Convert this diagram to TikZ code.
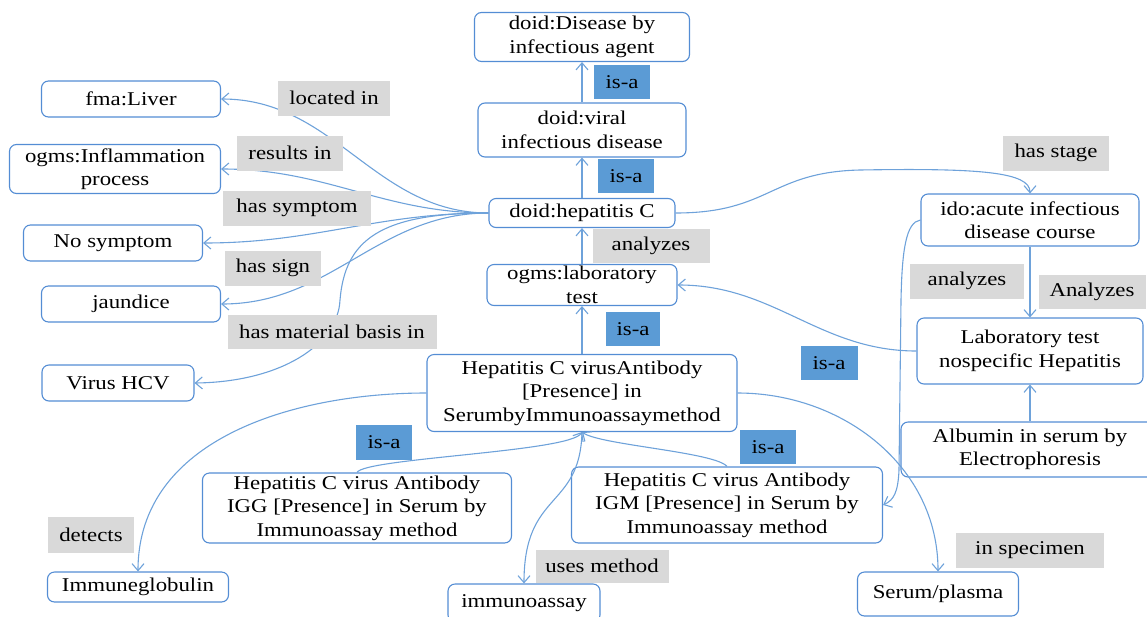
\documentclass[tikz,border=0pt]{standalone}
\usepackage{fontspec}
\setmainfont{Liberation Serif}[FakeStretch=1.17]
\usetikzlibrary{arrows.meta}
\definecolor{bord}{RGB}{84,141,212}
\definecolor{connc}{RGB}{110,162,218}
\definecolor{lblgray}{RGB}{217,217,217}
\definecolor{isablue}{RGB}{91,155,213}
\begin{document}
\begin{tikzpicture}[x=1pt,y=-1pt,
  every node/.style={font=\fontsize{19.5}{23.5}\selectfont, align=center, inner sep=0pt},
  box/.style={draw=bord, line width=1.1pt, rounded corners=7pt, fill=white},
  glbl/.style={fill=lblgray},
  blbl/.style={fill=isablue},
  link/.style={draw=connc, line width=1.1pt, -{Straight Barb[length=7pt,width=12pt]}},
]
\useasboundingbox (0,0) rectangle (1147,616);

% boxes
\node[box, minimum width=215pt, minimum height=49pt] (disease) at (582,37) {doid:Disease by\\infectious agent};
\node[box, minimum width=208pt, minimum height=54pt] (viral) at (582,130) {doid:viral\\infectious disease};
\node[box, minimum width=186pt, minimum height=29pt] (hepc) at (582,213) {doid:hepatitis C};
\node[box, minimum width=190pt, minimum height=41pt] (ogmslab) at (582,285) {ogms:laboratory\\test};
\node[box, minimum width=310pt, minimum height=77pt] (ab) at (582,393) {Hepatitis C virusAntibody\\{}[Presence] in\\SerumbyImmunoassaymethod};
\node[box, minimum width=309pt, minimum height=70pt] (igg) at (357,508) {Hepatitis C virus Antibody\\IGG [Presence] in Serum by\\Immunoassay method};
\node[box, minimum width=311pt, minimum height=76pt] (igm) at (727,505) {Hepatitis C virus Antibody\\IGM [Presence] in Serum by\\Immunoassay method};
\node[box, minimum width=152pt, minimum height=38pt] (immuno) at (524,603) {immunoassay};
\node[box, minimum width=181pt, minimum height=30pt] (immg) at (138,587) {Immuneglobulin};
\node[box, minimum width=161pt, minimum height=44pt] (serum) at (938,594) {Serum/plasma};
\node[box, minimum width=152pt, minimum height=36pt] (virus) at (118,383) {Virus HCV};
\node[box, minimum width=179pt, minimum height=36pt] (jaund) at (131,304) {jaundice};
\node[box, minimum width=179pt, minimum height=36pt] (nosym) at (113,243) {No symptom};
\node[box, minimum width=211pt, minimum height=49pt] (inflam) at (115,169) {ogms:Inflammation\\process};
\node[box, minimum width=179pt, minimum height=36pt] (liver) at (131,99) {fma:Liver};
\node[box, minimum width=218pt, minimum height=52pt] (ido) at (1030,220) {ido:acute infectious\\disease course};
\node[box, minimum width=226pt, minimum height=66pt] (labns) at (1030,351) {Laboratory test\\nospecific Hepatitis};
\node[box, minimum width=258pt, minimum height=55pt] (alb) at (1030,449.5) {Albumin in serum by\\Electrophoresis};

% connectors
\draw[link] (viral.north) -- (disease.south);
\draw[link] (hepc.north) -- (viral.south);
\draw[link] (ogmslab.north) -- (hepc.south);
\draw[link] (ab.north) -- (ogmslab.south);
\draw[link] (hepc.west) to[out=180,in=0] (liver.east);
\draw[link] (hepc.west) to[out=180,in=0] (inflam.east);
\draw[link] (hepc.west) to[out=180,in=0] (nosym.east);
\draw[link] (hepc.west) to[out=180,in=0] (jaund.east);
\draw[link] (hepc.west) .. controls (380,213) and (345,240) .. (340,300) .. controls (338,345) and (280,382) .. (virus.east);
\draw[link] (hepc.east) .. controls (770,213) and (770,172) .. (860,170) .. controls (980,168) and (1030,172) .. (ido.north);
\draw[link] (labns.west) to[out=180,in=0] (ogmslab.east);
\draw[link] (ido.south) -- (labns.north);
\draw[link] (alb.north) -- (labns.south);
\draw[link] (ido.west) .. controls (906,222) and (902,250) .. (901,300) -- (899,470) .. controls (898,492) and (894,500) .. (igm.east);
\draw[link] (ab.west) to[out=180,in=90] (immg.north);
\draw[link] (ab.east) to[out=0,in=90] (serum.north);
\draw[link] (igg.north) .. controls (365,458) and (570,452) .. (ab.south);
\draw[link] (igm.north) .. controls (715,452) and (600,445) .. (ab.south);
\draw[link] (ab.south) .. controls (580,510) and (524,490) .. (immuno.north);

% labels
\node[glbl, minimum width=112pt, minimum height=35pt] (l1) at (334,98) {located in};
\node[glbl, minimum width=106pt, minimum height=35pt] (l2) at (290,153) {results in};
\node[glbl, minimum width=148pt, minimum height=35pt] (l3) at (297,208) {has symptom};
\node[glbl, minimum width=96pt, minimum height=35pt] (l4) at (273,268) {has sign};
\node[glbl, minimum width=209pt, minimum height=34pt] (l5) at (332,332) {has material basis in};
\node[blbl, minimum width=56pt, minimum height=34pt] (i1) at (622,82) {is-a};
\node[blbl, minimum width=56pt, minimum height=34pt] (i2) at (626,176) {is-a};
\node[glbl, minimum width=117pt, minimum height=34pt] (l6) at (651,246) {analyzes};
\node[blbl, minimum width=54pt, minimum height=34pt] (i3) at (633,329) {is-a};
\node[glbl, minimum width=106pt, minimum height=35pt] (l7) at (1056,153) {has stage};
\node[glbl, minimum width=114pt, minimum height=35pt] (l8) at (967,281) {analyzes};
\node[glbl, minimum width=107pt, minimum height=34pt] (l9) at (1092,292) {Analyzes};
\node[blbl, minimum width=57pt, minimum height=34pt] (i4) at (829,363) {is-a};
\node[blbl, minimum width=56pt, minimum height=35pt] (i5) at (384,442) {is-a};
\node[blbl, minimum width=56pt, minimum height=34pt] (i6) at (768,447) {is-a};
\node[glbl, minimum width=86pt, minimum height=36pt] (l10) at (91,535) {detects};
\node[glbl, minimum width=133pt, minimum height=33pt] (l11) at (602,566) {uses method};
\node[glbl, minimum width=148pt, minimum height=35pt] (l12) at (1030,550) {in specimen};
\end{tikzpicture}
\end{document}
